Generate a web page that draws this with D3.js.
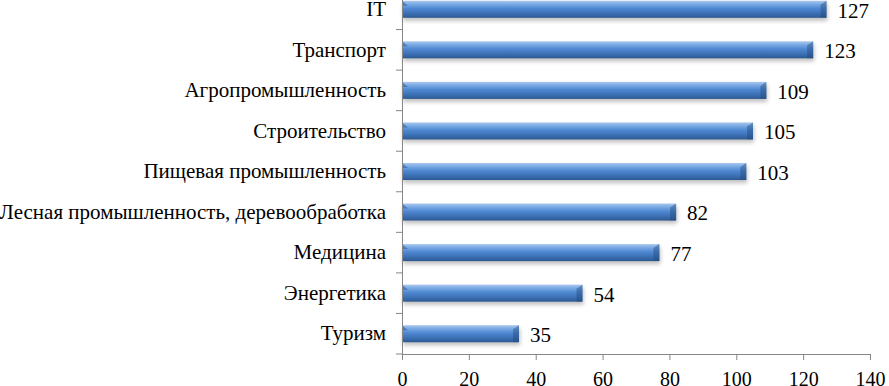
<!DOCTYPE html>
<html>
<head>
<meta charset="utf-8">
<script src="https://cdn.jsdelivr.net/npm/d3@7"></script>
<style>
  body { margin: 0; background: #fff; }
</style>
</head>
<body>
<div id="chart"></div>
<script>
const categories = ["IT", "Транспорт", "Агропромышленность", "Строительство",
    "Пищевая промышленность", "Лесная промышленность, деревообработка",
    "Медицина", "Энергетика", "Туризм"];
const values = [127, 123, 109, 105, 103, 82, 77, 54, 35];
const xTicks = [0, 20, 40, 60, 80, 100, 120, 140];

const W = 889, H = 386;
const margin = {top: -11, left: 402, right: 19, bottom: 32};
const width = W - margin.left - margin.right,
    height = H - margin.top - margin.bottom;
const serif = '"Liberation Serif", "Times New Roman", serif';

const svg = d3.select("#chart")
    .append("svg")
    .attr("width", W)
    .attr("height", H);

const defs = svg.append("defs");
const grad = defs.append("linearGradient")
    .attr("id", "barGrad")
    .attr("x1", 0).attr("y1", 0).attr("x2", 0).attr("y2", 1);
[[0, "#a9c7ee"], [0.2, "#7aaae4"], [0.45, "#4f88d2"], [0.75, "#3c70b4"], [1, "#2b5891"]]
    .forEach(s => grad.append("stop").attr("offset", s[0]).attr("stop-color", s[1]));

const blur = defs.append("filter").attr("id", "shadow")
    .attr("x", "-5%").attr("y", "-50%").attr("width", "110%").attr("height", "200%");
blur.append("feGaussianBlur").attr("stdDeviation", 2);

const g = svg.append("g")
    .attr("transform", `translate(${margin.left},${margin.top})`);

const x = d3.scaleLinear().domain([0, 140]).range([0, width]);
const band = d3.scaleBand().domain(categories).range([0, height]);

// bars
const barH = 17;
const rows = g.selectAll(".row")
    .data(categories)
    .enter()
    .append("g")
    .attr("transform", d => `translate(0,${band(d) + band.bandwidth() / 2 - barH / 2})`);

rows.append("rect")
    .attr("x", 1)
    .attr("y", 3)
    .attr("width", (d, i) => x(values[i]))
    .attr("height", barH)
    .attr("fill", "#000")
    .attr("opacity", 0.25)
    .attr("filter", "url(#shadow)");

rows.append("rect")
    .attr("x", 0)
    .attr("y", 0)
    .attr("width", (d, i) => x(values[i]))
    .attr("height", barH)
    .attr("fill", "url(#barGrad)");

// bevel at the ends
rows.append("path")
    .attr("d", (d, i) => {
        const e = x(values[i]);
        return `M${e - 6},4 L${e},0 L${e},${barH} L${e - 6},${barH} Z`;
    })
    .attr("fill", "#24497a")
    .attr("opacity", 0.45);
rows.append("path")
    .attr("d", `M0,0 L6,5 L0,5 Z`)
    .attr("fill", "#2f5f9e")
    .attr("opacity", 0.6);

// value labels
rows.append("text")
    .attr("x", (d, i) => x(values[i]) + 11)
    .attr("y", barH / 2 + 1)
    .attr("dy", "0.35em")
    .style("font-family", serif)
    .style("font-size", "21px")
    .text((d, i) => values[i]);

// axes
const axisColor = "#868686";
const xAxis = g.append("g")
    .attr("transform", `translate(0,${height})`)
    .call(d3.axisBottom(x).tickValues(xTicks).tickSize(6).tickSizeOuter(0).tickPadding(12));
xAxis.selectAll("text")
    .style("font-family", serif)
    .style("font-size", "20px")
    .style("fill", "#000");

const yAxis = g.append("g")
    .call(d3.axisLeft(band).tickSize(0).tickPadding(16));
yAxis.selectAll("text")
    .style("font-family", serif)
    .style("font-size", "21px")
    .style("fill", "#000");

// category divider ticks
g.selectAll(".ytick")
    .data(categories)
    .enter()
    .append("line")
    .attr("x1", -6).attr("x2", 0)
    .attr("y1", d => band(d) + band.bandwidth())
    .attr("y2", d => band(d) + band.bandwidth())
    .attr("stroke", axisColor);

svg.selectAll(".domain, .tick line").attr("stroke", axisColor);
</script>
</body>
</html>
